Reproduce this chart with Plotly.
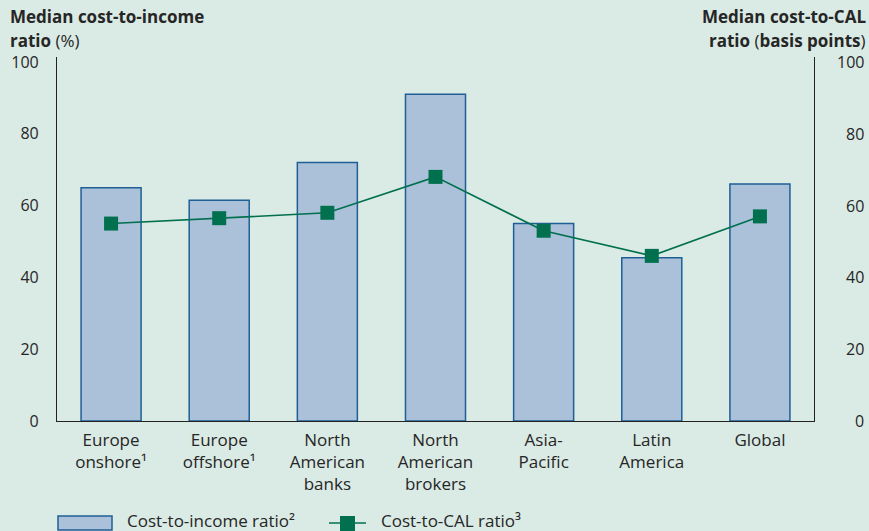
import plotly.graph_objects as go

# Chart data
categories = [
    "Europe<br>onshore¹",
    "Europe<br>offshore¹",
    "North<br>American<br>banks",
    "North<br>American<br>brokers",
    "Asia-<br>Pacific",
    "Latin<br>America",
    "Global",
]
cost_to_income = [65, 61.5, 72, 91, 55, 45.5, 66]
cost_to_cal = [55, 56.5, 58, 68, 53, 46, 57]
left_ticks = [0, 20, 40, 60, 80, 100]
right_ticks = [0, 20, 40, 60, 80, 100]

BG = "#DAEAE4"
TEXT = "#262626"
BAR_FILL = "#ABC0D9"
BAR_EDGE = "#1E5F96"
GREEN = "#00704F"
FONT = "Open Sans"

W, H = 869, 531
ML, MR, MT, MB = 57, 55, 57, 110
PW = W - ML - MR
PH = H - MT - MB


def px_x(p):
    return (p - ML) / PW


def px_y(p):
    return (H - MB - p) / PH


fig = go.Figure()

fig.add_trace(go.Bar(
    x=categories,
    y=cost_to_income,
    marker=dict(color=BAR_FILL, line=dict(color=BAR_EDGE, width=1.5)),
    name="Cost-to-income ratio²",
    showlegend=False,
    yaxis="y",
))

fig.add_trace(go.Scatter(
    x=categories,
    y=cost_to_cal,
    mode="lines+markers",
    line=dict(color=GREEN, width=1.6),
    marker=dict(symbol="square", size=14, color=GREEN),
    name="Cost-to-CAL ratio³",
    showlegend=False,
    yaxis="y2",
))

yr = [0, 101.4]

annotations = []
# Right-axis tick labels, right-aligned
for v in right_ticks:
    annotations.append(dict(
        x=px_x(865), xref="paper", y=v, yref="y2",
        text=str(v), showarrow=False, xanchor="right", yanchor="middle",
        borderpad=0,
        font=dict(family=FONT, size=16, color=TEXT),
    ))

TITLE_FONT = dict(family=FONT, size=17, color=TEXT)

# Axis titles
annotations += [
    dict(x=px_x(9), y=px_y(17), xref="paper", yref="paper",
         text="<b>Median cost-to-income</b>", showarrow=False,
         xanchor="left", yanchor="middle", borderpad=0, font=TITLE_FONT),
    dict(x=px_x(9), y=px_y(41), xref="paper", yref="paper",
         text="<b>ratio</b> (%)", showarrow=False,
         xanchor="left", yanchor="middle", borderpad=0, font=TITLE_FONT),
    dict(x=px_x(867), y=px_y(17), xref="paper", yref="paper",
         text="<b>Median cost-to-CAL</b>", showarrow=False,
         xanchor="right", yanchor="middle", borderpad=0, font=TITLE_FONT),
    dict(x=px_x(867), y=px_y(41), xref="paper", yref="paper",
         text="<b>ratio</b> (<b>basis points</b>)", showarrow=False,
         xanchor="right", yanchor="middle", borderpad=0, font=TITLE_FONT),
]

# Legend
annotations += [
    dict(x=px_x(126), y=px_y(520), xref="paper", yref="paper",
         text="Cost-to-income ratio²", showarrow=False,
         xanchor="left", yanchor="middle", borderpad=0, font=TITLE_FONT),
    dict(x=px_x(380), y=px_y(520), xref="paper", yref="paper",
         text="Cost-to-CAL ratio³", showarrow=False,
         xanchor="left", yanchor="middle", borderpad=0, font=TITLE_FONT),
]

shapes = [
    dict(type="rect", xref="paper", yref="paper",
         x0=px_x(58), x1=px_x(112), y0=px_y(530), y1=px_y(516),
         fillcolor=BAR_FILL, line=dict(color=BAR_EDGE, width=1.5)),
    dict(type="line", xref="paper", yref="paper",
         x0=px_x(329), x1=px_x(366), y0=px_y(523), y1=px_y(523),
         line=dict(color=GREEN, width=1.6)),
    dict(type="rect", xref="paper", yref="paper",
         x0=px_x(340), x1=px_x(355), y0=px_y(531), y1=px_y(516),
         fillcolor=GREEN, line=dict(width=0)),
]

fig.update_layout(
    width=W, height=H,
    margin=dict(l=ML, r=MR, t=MT, b=MB),
    paper_bgcolor=BG, plot_bgcolor=BG,
    font=dict(family=FONT, size=16, color=TEXT),
    bargap=0.445,
    showlegend=False,
    xaxis=dict(
        range=[-0.5, 6.5], showline=True, linecolor="#222", linewidth=1.2,
        ticks="", showgrid=False, zeroline=False,
        ticklabelstandoff=3,
        tickfont=dict(family=FONT, size=17, color=TEXT),
    ),
    yaxis=dict(
        range=yr, showline=True, linecolor="#222", linewidth=1.2,
        ticks="", tickvals=left_ticks, showgrid=False, zeroline=False,
        ticklabelstandoff=14,
        tickfont=dict(family=FONT, size=16, color=TEXT),
    ),
    yaxis2=dict(
        range=yr, overlaying="y", side="right", showline=True,
        linecolor="#222", linewidth=1.2, ticks="", showticklabels=False,
        showgrid=False, zeroline=False,
    ),
    annotations=annotations,
    shapes=shapes,
)

fig.write_html("out.html")
